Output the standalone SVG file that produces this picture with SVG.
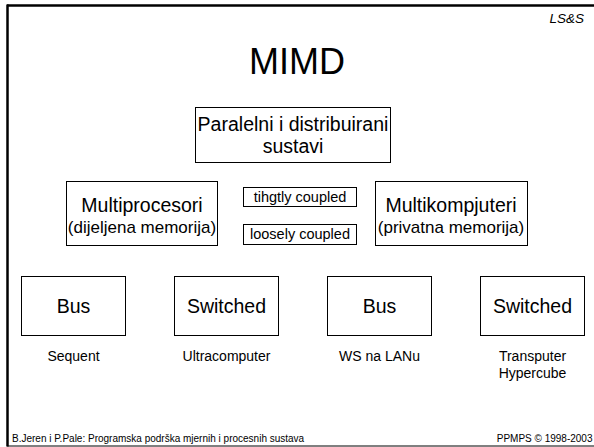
<svg xmlns="http://www.w3.org/2000/svg" width="594" height="447" viewBox="0 0 594 447">
<style>
text{font-family:"Liberation Sans",Arial,sans-serif;fill:#000}
.box{fill:#fff;stroke:#000;stroke-width:1}
.c{text-anchor:middle}
.big{font-size:19.5px}
.sub{font-size:17px}
.tag{font-size:14.5px}
.lbl{font-size:14px}
.ft{font-size:10px}
</style>
<rect x="0" y="0" width="594" height="447" fill="#fff"/>
<g id="frame" fill="none" stroke="#000">
<line x1="7" y1="5.5" x2="594" y2="5.5" stroke-width="2.5"/>
<line x1="7.5" y1="4.5" x2="7.5" y2="446.5" stroke-width="2.5"/>
<line x1="7" y1="446" x2="594" y2="446" stroke-width="1"/>
</g>
<text x="584" y="23" font-size="13.5" font-style="italic" text-anchor="end">LS&amp;S</text>
<text id="title" x="297" y="74" font-size="36" class="c">MIMD</text>
<g id="connectors"></g>
<g id="root">
<rect class="box" x="195.5" y="107.5" width="195" height="55"/>
<text class="c big" x="293" y="131">Paralelni i distribuirani</text>
<text class="c big" x="293" y="153">sustavi</text>
</g>
<g id="multiprocesori">
<rect class="box" x="66.5" y="181.5" width="151" height="64"/>
<text class="c big" x="142" y="212">Multiprocesori</text>
<text class="c sub" x="142" y="233">(dijeljena memorija)</text>
</g>
<g id="tightly">
<rect class="box" x="243.5" y="187.5" width="113" height="19"/>
<text class="c tag" x="300" y="202">tihgtly coupled</text>
</g>
<g id="loosely">
<rect class="box" x="243.5" y="224.5" width="113" height="20"/>
<text class="c tag" x="300" y="239">loosely coupled</text>
</g>
<g id="multikompjuteri">
<rect class="box" x="375.5" y="181.5" width="152" height="64"/>
<text class="c big" x="451" y="212">Multikompjuteri</text>
<text class="c sub" x="451" y="233">(privatna memorija)</text>
</g>
<g id="bus1">
<rect class="box" x="21.5" y="276.5" width="104" height="59"/>
<text class="c big" x="73.5" y="313">Bus</text>
</g>
<g id="switched1">
<rect class="box" x="174.5" y="276.5" width="104" height="59"/>
<text class="c big" x="226.5" y="313">Switched</text>
</g>
<g id="bus2">
<rect class="box" x="327.5" y="276.5" width="104" height="59"/>
<text class="c big" x="379.5" y="313">Bus</text>
</g>
<g id="switched2">
<rect class="box" x="480.5" y="276.5" width="104" height="59"/>
<text class="c big" x="532.5" y="313">Switched</text>
</g>
<g id="labels">
<text class="c lbl" x="73.5" y="361">Sequent</text>
<text class="c lbl" x="226.5" y="361">Ultracomputer</text>
<text class="c lbl" x="379.5" y="361">WS na LANu</text>
<text class="c lbl" x="532.5" y="361">Transputer</text>
<text class="c lbl" x="532.5" y="378">Hypercube</text>
</g>
<text class="ft" x="12" y="442">B.Jeren i P.Pale: Programska podrška mjernih i procesnih sustava</text>
<text class="ft" x="592.5" y="442" text-anchor="end">PPMPS © 1998-2003</text>
</svg>
